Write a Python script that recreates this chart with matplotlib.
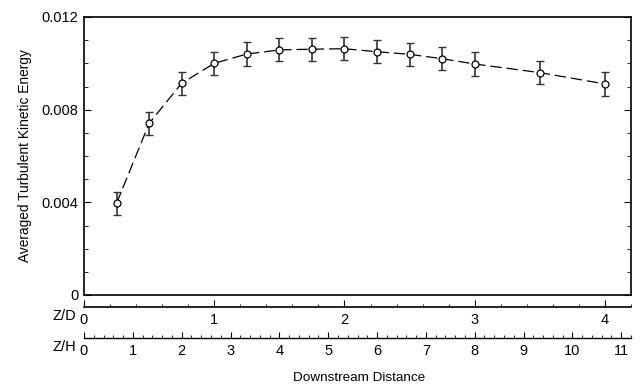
import matplotlib
matplotlib.use("Agg")
import matplotlib.pyplot as plt
from matplotlib.ticker import MultipleLocator, FixedLocator, FuncFormatter

plt.rcParams['font.family'] = ['Liberation Sans', 'DejaVu Sans']

# downstream distance Z/D and averaged TKE with error bars
zd = [0.25, 0.5, 0.75, 1.0, 1.25, 1.5, 1.75, 2.0, 2.25, 2.5, 2.75, 3.0, 3.5, 4.0]
tke = [0.00396, 0.00741, 0.00914, 0.01000, 0.01040, 0.01058, 0.01061,
       0.01063, 0.01050, 0.01039, 0.01020, 0.00997, 0.00960, 0.00911]
err = [0.0005, 0.0005, 0.0005, 0.0005, 0.0005, 0.0005, 0.0005,
       0.0005, 0.0005, 0.0005, 0.0005, 0.0005, 0.0005, 0.0005]
zd_ticks = [0, 1, 2, 3, 4]
zh_ticks = [0, 1, 2, 3, 4, 5, 6, 7, 8, 9, 10, 11]
zh_per_zd = 8.0 / 3.0

fig = plt.figure(figsize=(6.4, 3.86), dpi=100)
ax = fig.add_axes([84/640, 91/386, 547/640, 278/386])

ax.errorbar(zd, tke, yerr=err, fmt='none', ecolor='#333333', elinewidth=1.2,
            capsize=2.8, capthick=1.0, zorder=2)
ax.plot(zd, tke, color='black', lw=0.9, dashes=(9, 4), marker='o', ms=5,
        mfc='white', mec='black', mew=0.9, zorder=3)

ax.set_xlim(0, 4.2)
ax.set_ylim(0, 0.012)
ax.yaxis.set_major_locator(MultipleLocator(0.004))
ax.yaxis.set_minor_locator(MultipleLocator(0.001))
ax.yaxis.set_major_formatter(FuncFormatter(lambda v, p: '0' if v == 0 else '%.3f' % v))
ax.tick_params(axis='y', which='both', direction='in', left=True, right=True,
               labelsize=10.5, pad=4)
ax.tick_params(axis='y', which='major', length=5)
ax.tick_params(axis='y', which='minor', length=3)
ax.tick_params(axis='x', which='both', bottom=False, labelbottom=False)
for s in ax.spines.values():
    s.set_linewidth(1.2)
ax.set_ylabel('Averaged Turbulent Kinetic Energy', fontsize=9.9, labelpad=7)

# Z/D axis
sd = ax.secondary_xaxis(-12/278)
sd.xaxis.set_major_locator(FixedLocator(zd_ticks))
sd.xaxis.set_minor_locator(FixedLocator([i * 0.2 for i in range(22)]))
sd.tick_params(which='both', direction='in', labelsize=10.5, pad=4)
sd.tick_params(which='major', length=5)
sd.tick_params(which='minor', length=2.5)
sd.spines['bottom'].set_linewidth(1.2)

# Z/H axis
sh = ax.secondary_xaxis(-43/278, functions=(lambda x: x * zh_per_zd, lambda x: x / zh_per_zd))
sh.xaxis.set_major_locator(FixedLocator(zh_ticks))
sh.xaxis.set_minor_locator(FixedLocator([i * 0.2 for i in range(57)]))
sh.tick_params(which='both', direction='in', labelsize=10.5, pad=4)
sh.tick_params(which='major', length=4)
sh.tick_params(which='minor', length=2)
sh.spines['bottom'].set_linewidth(1.0)

fig.text(76/640, 1 - 316/386, 'Z/D', fontsize=10.5, ha='right', va='center')
fig.text(76/640, 1 - 347/386, 'Z/H', fontsize=10.5, ha='right', va='center')
fig.text(359/640, 1 - 378/386, 'Downstream Distance', fontsize=9.7, ha='center', va='center')

fig.savefig('out.png', dpi=100)
